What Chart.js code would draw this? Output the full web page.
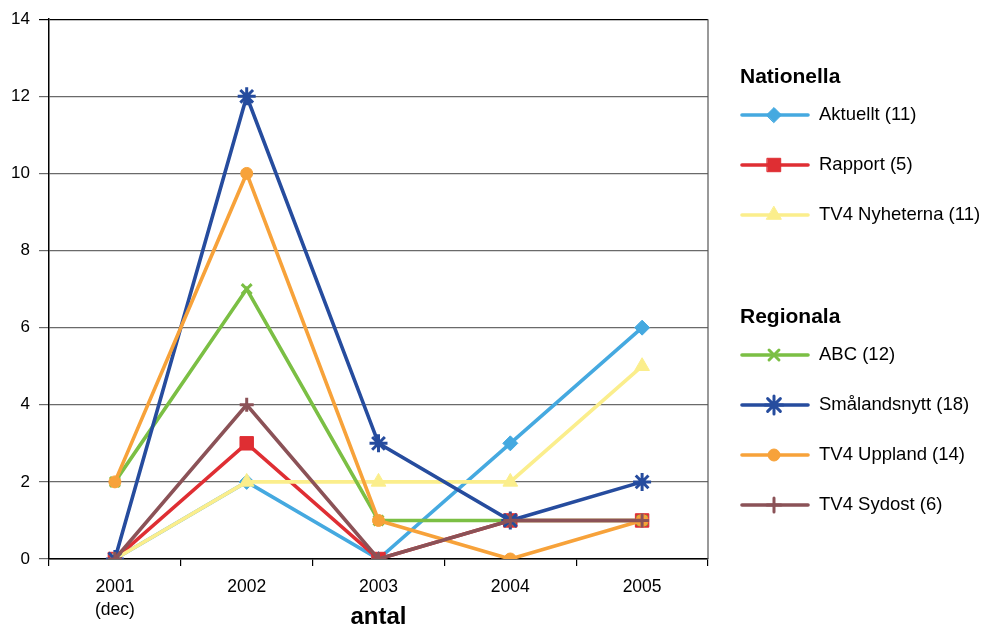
<!DOCTYPE html>
<html>
<head>
<meta charset="utf-8">
<script src="https://cdn.jsdelivr.net/npm/chart.js@4/dist/chart.umd.min.js"></script>
<style>
  html, body { margin: 0; padding: 0; background: #fff; }
  #wrap { width: 986px; height: 632px; position: relative; }
</style>
</head>
<body>
<div id="wrap"><canvas id="newsChart"></canvas></div>
<script>
/* Nyhetsinslag per år — linjediagram */

const YEARS = [['2001', '(dec)'], '2002', '2003', '2004', '2005'];
const Y_TICKS = [0, 2, 4, 6, 8, 10, 12, 14];
const GROUP_TITLES = ['Nationella', 'Regionala'];

const SERIES_NAMES = ['Aktuellt (11)', 'Rapport (5)', 'TV4 Nyheterna (11)', 'ABC (12)', 'Smålandsnytt (18)', 'TV4 Uppland (14)', 'TV4 Sydost (6)'];
const SERIES_GROUP = [0, 0, 0, 1, 1, 1, 1];

const AKTUELLT     = [0, 2, 0, 3, 6];
const RAPPORT      = [0, 3, 0, 1, 1];
const TV4_NYHETER  = [0, 2, 2, 2, 5];
const ABC          = [2, 7, 1, 1, 1];
const SMALAND      = [0, 12, 3, 1, 2];
const TV4_UPPLAND  = [2, 10, 1, 0, 1];
const TV4_SYDOST   = [0, 4, 0, 1, 1];

const SERIES_VALUES = [AKTUELLT, RAPPORT, TV4_NYHETER, ABC, SMALAND, TV4_UPPLAND, TV4_SYDOST];

const COLORS = ['#45a9e0', '#df2e33', '#fbee8c', '#7bbf44', '#264c9e', '#f7a23a', '#8b5257'];
const MARKERS = [
  { style: 'rectRot', r: 7.5 },
  { style: 'rect', r: 9.5 },
  { style: 'triangle', r: 8.5 },
  { style: 'crossRot', r: 7 },
  { style: 'star', r: 9 },
  { style: 'circle', r: 6 },
  { style: 'cross', r: 7 }
];

const FONT = '"Liberation Sans", Arial, sans-serif';

const datasets = SERIES_VALUES.map((vals, i) => ({
  label: SERIES_NAMES[i],
  data: vals,
  borderColor: COLORS[i],
  backgroundColor: COLORS[i],
  borderWidth: 3.6,
  tension: 0,
  pointStyle: MARKERS[i].style,
  pointRadius: MARKERS[i].r,
  pointBorderWidth: (MARKERS[i].style.startsWith('cross') || MARKERS[i].style === 'star') ? 3 : 1,
  pointBackgroundColor: COLORS[i],
  pointBorderColor: COLORS[i],
  order: SERIES_VALUES.length - i
}));

/* ── Grouped legend drawn in the right margin ───────────────── */
const groupedLegend = {
  id: 'groupedLegend',
  afterDraw(chart) {
    const ctx = chart.ctx;
    const x0 = 740, lineEnd = 808, textX = 819;
    let y = 77;
    ctx.save();
    GROUP_TITLES.forEach((title, g) => {
      ctx.fillStyle = '#000';
      ctx.font = 'bold 21px ' + FONT;
      ctx.textAlign = 'left';
      ctx.textBaseline = 'middle';
      ctx.fillText(title, x0, y);
      y += 38;
      chart.data.datasets.forEach((ds, i) => {
        if (SERIES_GROUP[i] !== g) return;
        ctx.strokeStyle = ds.borderColor;
        ctx.lineWidth = ds.borderWidth;
        ctx.lineCap = 'round';
        ctx.beginPath();
        ctx.moveTo(x0 + 2, y);
        ctx.lineTo(lineEnd, y);
        ctx.stroke();
        ctx.fillStyle = ds.pointBackgroundColor;
        ctx.strokeStyle = ds.pointBorderColor;
        ctx.lineWidth = ds.pointBorderWidth;
        Chart.helpers.drawPoint(ctx, { pointStyle: ds.pointStyle, radius: ds.pointRadius, rotation: 0, borderWidth: ds.pointBorderWidth }, (x0 + lineEnd) / 2, y);
        ctx.fillStyle = '#000';
        ctx.font = '18.5px ' + FONT;
        ctx.fillText(ds.label, textX, y);
        y += 50;
      });
      y += 52;
    });
    ctx.restore();
  }
};

/* ── Right-hand frame line ─────────────────────────────────── */
const frame = {
  id: 'frame',
  beforeDatasetsDraw(chart) {
    const { ctx, chartArea: a } = chart;
    ctx.save();
    ctx.strokeStyle = '#555';
    ctx.lineWidth = 1.2;
    ctx.beginPath();
    ctx.moveTo(a.right, a.top);
    ctx.lineTo(a.right, a.bottom);
    ctx.stroke();
    ctx.restore();
  }
};

new Chart(document.getElementById('newsChart'), {
  type: 'line',
  data: { labels: YEARS, datasets },
  plugins: [groupedLegend, frame],
  options: {
    responsive: true,
    maintainAspectRatio: false,
    animation: false,
    layout: { padding: { left: 0, top: 18, right: 278, bottom: 0 } },
    plugins: { legend: { display: false }, tooltip: { enabled: false } },
    scales: {
      x: {
        offset: true,
        grid: { offset: true, drawOnChartArea: false, drawTicks: true, tickLength: 7, color: '#000', lineWidth: 1.2 },
        border: { color: '#000', width: 1.5 },
        ticks: { color: '#000', padding: 9, font: { family: FONT, size: 17.5, lineHeight: 1.35 }, maxRotation: 0 },
        title: { display: true, text: 'antal', color: '#000', font: { family: FONT, size: 24, weight: 'bold' }, padding: { top: 0, bottom: 0 } },
        afterFit(scale) { scale.height = 73; }
      },
      y: {
        min: 0,
        max: 14,
        ticks: { stepSize: 2, color: '#000', padding: 9, font: { family: FONT, size: 17 } },
        afterBuildTicks(scale) { scale.ticks = Y_TICKS.map(v => ({ value: v })); },
        grid: {
          color: ctx => ctx.tick && ctx.tick.value === 14 ? '#000' : '#6a6a6a',
          lineWidth: 1.2,
          tickLength: 10
        },
        border: { color: '#000', width: 1.5 },
        afterFit(scale) { scale.width = 49; }
      }
    }
  }
});
</script>
</body>
</html>
